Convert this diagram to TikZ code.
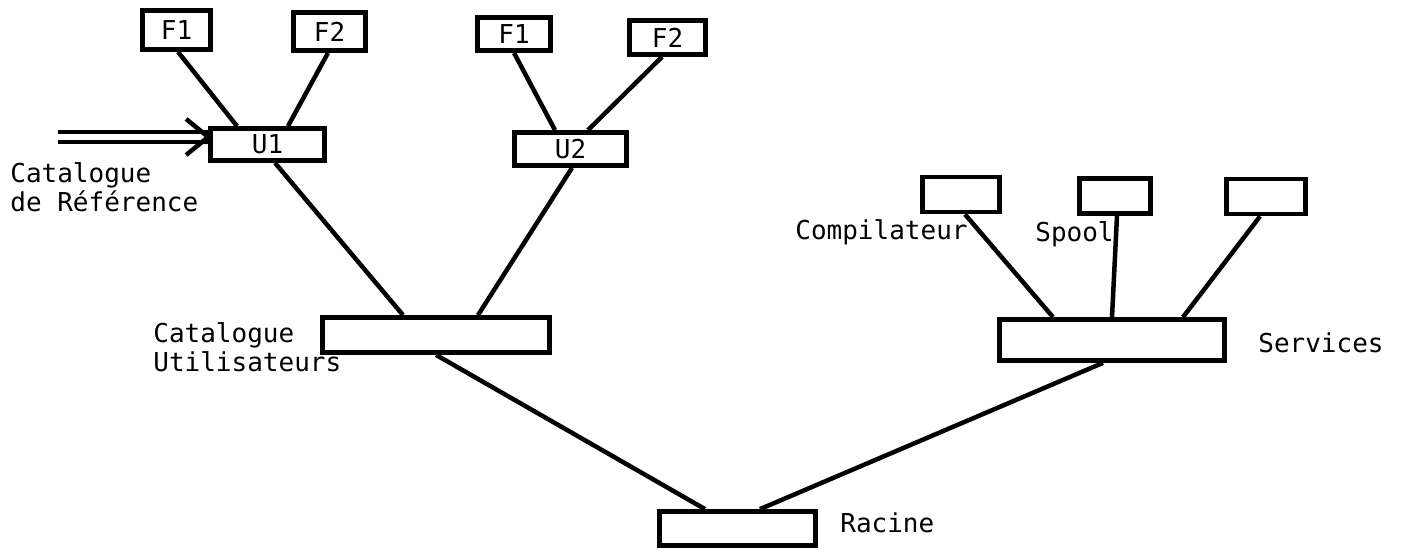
\documentclass[tikz,border=0pt]{standalone}
\usepackage{fontspec}
\setmonofont{DejaVu Sans Mono}
\usetikzlibrary{arrows.meta,positioning,calc}

\begin{document}
\begin{tikzpicture}[x=1mm,y=1mm,font=\ttfamily\fontsize{14.8}{17}\selectfont,
    bloc/.style={draw,line width=0.95mm,inner sep=0pt},
    lien/.style={line width=0.9mm},
    lbl/.style={anchor=base west,inner sep=0pt}]
  \useasboundingbox (0,0) rectangle (280.4,-110.4);

  % Boxes: name/x/y/width/height/text
  \foreach \nm/\x/\y/\w/\h/\txt in {
    fa/35.3/-6.0/13.6/7.8/F1, fb/65.9/-6.3/14.4/7.6/F2,
    ua/53.5/-28.9/22.8/6.4/U1,
    fc/102.8/-6.8/14.6/6.6/F1, fd/133.5/-7.5/15.2/6.8/F2,
    ub/114.1/-29.8/22.4/6.6/U2,
    catu/87.2/-67.0/45.4/7.0/{},
    racine/147.5/-105.7/31.2/6.8/{},
    serv/222.4/-68.0/45.0/8.2/{},
    comp/192.2/-38.9/15.4/7.0/{}, spool/223.0/-39.2/14.2/7.0/{},
    autre/253.2/-39.3/15.8/7.0/{}}{
    \node[bloc,minimum width=\w mm,minimum height=\h mm] (\nm) at (\x,\y) {\txt};
  }

  % Tree edges: from/shift/to/shift
  \foreach \a/\da/\b/\db in {
    fa/0.3/ua/-6.1, fb/-0.3/ua/4.1, fc/0/ub/-3.1, fd/-1.1/ub/3.5,
    ua/1.5/catu/-6.6, ub/0.3/catu/8.4,
    comp/0.8/serv/-11.8, spool/0.4/serv/0, autre/-1.2/serv/14.2,
    catu/0/racine/-6.5, serv/-1.8/racine/4.5}{
    \draw[lien] ([xshift=\da mm]\a.south) -- ([xshift=\db mm]\b.north);
  }

  % Reference catalogue entering U1 (double line, open chevron)
  \coordinate (refin) at (11.6,-27.4);
  \coordinate (refout) at ([yshift=1.5mm]ua.west);
  \draw[line width=0.8mm,double,double distance=1.2mm] (refin) -- (refout);
  \draw[lien,line join=miter] ([shift={(-4.4,3.6)}]refout) -- (refout)
    -- ([shift={(-4.4,-3.6)}]refout);

  % Labels
  \node[lbl,align=left] (lref) at (2,-42.4) {Catalogue\\de Référence};
  \node[lbl,align=left] (lcatu) at (30.6,-74.4) {Catalogue\\Utilisateurs};
  \node[lbl] (lcomp) at (159,-48) {Compilateur};
  \node[lbl] (lspool) at (207,-48.4) {Spool};
  \node[lbl] (lserv) at (251.6,-70.4) {Services};
  \node[lbl] (lracine) at (168,-106.4) {Racine};
\end{tikzpicture}
\end{document}
